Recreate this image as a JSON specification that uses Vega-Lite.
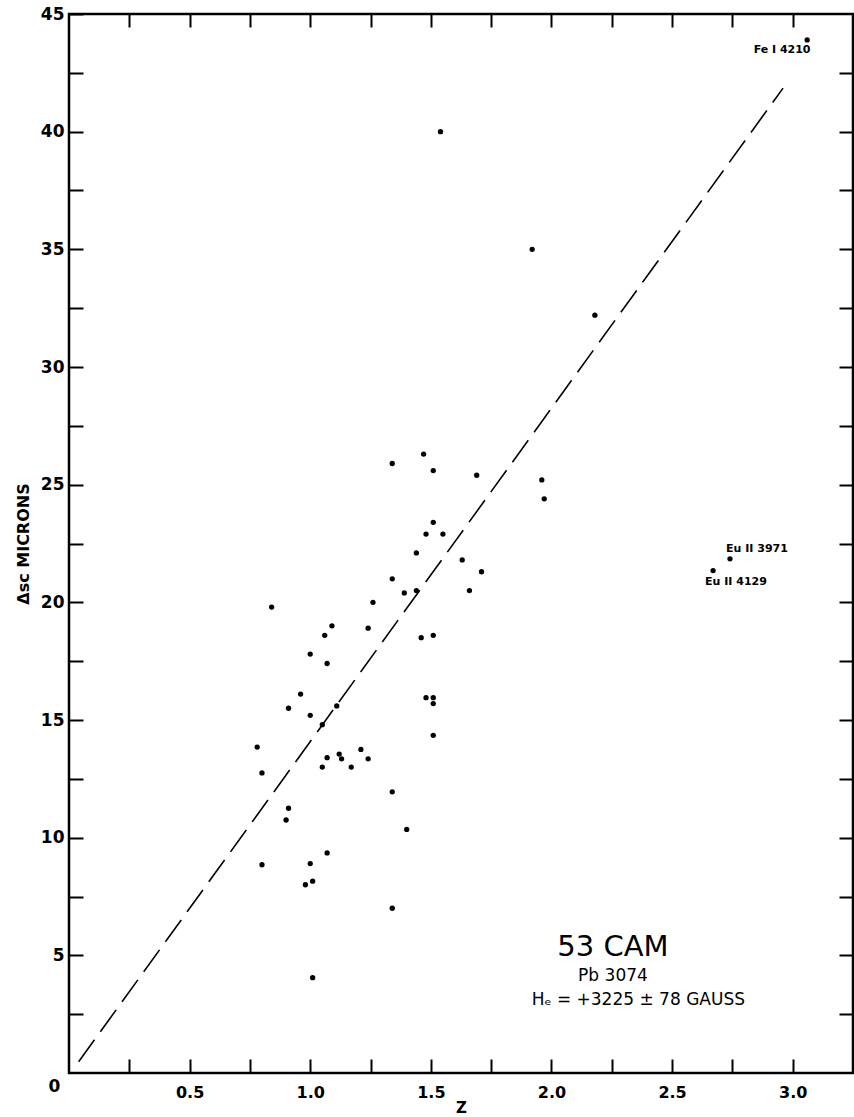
{
  "$schema": "https://vega.github.io/schema/vega-lite/v6.json",
  "width": 784,
  "height": 1059,
  "autosize": "none",
  "padding": {"left": 69, "top": 14, "right": 1, "bottom": 44},
  "background": "white",
  "config": {
    "view": {"stroke": "black", "strokeWidth": 2.5},
    "font": "DejaVu Sans"
  },
  "datasets": {
    "points": [
      {"z": 3.06, "ds": 43.9},
      {"z": 1.54, "ds": 40.0},
      {"z": 1.92, "ds": 35.0},
      {"z": 2.18, "ds": 32.2},
      {"z": 1.34, "ds": 25.9},
      {"z": 1.47, "ds": 26.3},
      {"z": 1.51, "ds": 25.6},
      {"z": 1.69, "ds": 25.4},
      {"z": 1.96, "ds": 25.2},
      {"z": 1.97, "ds": 24.4},
      {"z": 1.51, "ds": 23.4},
      {"z": 1.48, "ds": 22.9},
      {"z": 1.55, "ds": 22.9},
      {"z": 1.44, "ds": 22.1},
      {"z": 1.63, "ds": 21.8},
      {"z": 1.71, "ds": 21.3},
      {"z": 1.34, "ds": 21.0},
      {"z": 1.39, "ds": 20.4},
      {"z": 1.44, "ds": 20.5},
      {"z": 1.66, "ds": 20.5},
      {"z": 0.84, "ds": 19.8},
      {"z": 1.26, "ds": 20.0},
      {"z": 1.09, "ds": 19.0},
      {"z": 1.06, "ds": 18.6},
      {"z": 1.24, "ds": 18.9},
      {"z": 1.46, "ds": 18.5},
      {"z": 1.51, "ds": 18.6},
      {"z": 1.0, "ds": 17.8},
      {"z": 1.07, "ds": 17.4},
      {"z": 0.96, "ds": 16.1},
      {"z": 0.91, "ds": 15.5},
      {"z": 1.0, "ds": 15.2},
      {"z": 1.11, "ds": 15.6},
      {"z": 1.05, "ds": 14.8},
      {"z": 1.48, "ds": 15.95},
      {"z": 1.51, "ds": 15.95},
      {"z": 1.51, "ds": 15.7},
      {"z": 1.51, "ds": 14.35},
      {"z": 0.78, "ds": 13.85},
      {"z": 0.8, "ds": 12.75},
      {"z": 1.07, "ds": 13.4},
      {"z": 1.12, "ds": 13.55},
      {"z": 1.13, "ds": 13.35},
      {"z": 1.21, "ds": 13.75},
      {"z": 1.24, "ds": 13.35},
      {"z": 1.05, "ds": 13.0},
      {"z": 1.17, "ds": 13.0},
      {"z": 0.91, "ds": 11.25},
      {"z": 0.9, "ds": 10.75},
      {"z": 1.34, "ds": 11.95},
      {"z": 1.4, "ds": 10.35},
      {"z": 1.07, "ds": 9.35},
      {"z": 0.8, "ds": 8.85},
      {"z": 1.0, "ds": 8.9},
      {"z": 0.98, "ds": 8.0},
      {"z": 1.01, "ds": 8.15},
      {"z": 1.34, "ds": 7.0},
      {"z": 1.01, "ds": 4.05},
      {"z": 2.74, "ds": 21.85},
      {"z": 2.67, "ds": 21.35}
    ],
    "fit": [
      {"z": 0.04, "ds": 0.48},
      {"z": 2.96, "ds": 41.85}
    ],
    "smalllabels": [
      {"z": 2.956, "ds": 43.45, "label": "Fe I 4210"},
      {"z": 2.852, "ds": 22.27, "label": "Eu II 3971"},
      {"z": 2.765, "ds": 20.87, "label": "Eu II 4129"}
    ],
    "title": [
      {"z": 2.255, "ds": 5.35, "label": "53 CAM"}
    ],
    "subtitle": [
      {"z": 2.255, "ds": 4.12, "label": "Pb 3074"},
      {"z": 2.36, "ds": 3.1, "label": "Hₑ = +3225 ± 78 GAUSS"}
    ],
    "origin": [
      {"z": -0.06, "ds": -0.6, "label": "0"}
    ]
  },
  "layer": [
    {
      "data": {"name": "points"},
      "mark": {"type": "circle", "size": 28, "color": "black", "opacity": 1},
      "encoding": {
        "x": {
          "field": "z", "type": "quantitative",
          "scale": {"domain": [0, 3.25], "nice": false, "zero": false},
          "axis": {
            "orient": "bottom",
            "values": [0.25, 0.5, 0.75, 1, 1.25, 1.5, 1.75, 2, 2.25, 2.5, 2.75, 3],
            "labelExpr": "(datum.value * 2) % 1 == 0 ? format(datum.value, '.1f') : ''",
            "tickSize": -14, "tickWidth": 2, "tickColor": "black",
            "domain": false, "grid": false,
            "labelFont": "DejaVu Sans", "labelFontSize": 16, "labelFontWeight": "bold",
            "labelColor": "black", "labelPadding": 25,
            "title": "Z", "titleFont": "DejaVu Sans", "titleFontSize": 15,
            "titleFontWeight": "bold", "titleColor": "black", "titlePadding": 0
          }
        },
        "y": {
          "field": "ds", "type": "quantitative",
          "scale": {"domain": [0, 45], "nice": false, "zero": false},
          "axis": {
            "orient": "left",
            "values": [2.5, 5, 7.5, 10, 12.5, 15, 17.5, 20, 22.5, 25, 27.5, 30, 32.5, 35, 37.5, 40, 42.5, 45],
            "labelExpr": "datum.value % 5 == 0 ? format(datum.value, 'd') : ''",
            "tickSize": -14, "tickWidth": 2, "tickColor": "black",
            "domain": false, "grid": false,
            "labelFont": "DejaVu Sans", "labelFontSize": 17, "labelFontWeight": "bold",
            "labelColor": "black", "labelPadding": 19,
            "title": "Δsc  MICRONS", "titleFont": "DejaVu Sans", "titleFontSize": 16,
            "titleFontWeight": "bold", "titleColor": "black", "titlePadding": 9
          }
        }
      }
    },
    {
      "data": {"name": "fit"},
      "mark": {"type": "line", "color": "black", "strokeWidth": 1.6, "strokeDash": [27, 10]},
      "encoding": {
        "x": {
          "field": "z", "type": "quantitative",
          "scale": {"domain": [0, 3.25], "nice": false, "zero": false},
          "axis": {
            "orient": "top",
            "values": [0.25, 0.5, 0.75, 1, 1.25, 1.5, 1.75, 2, 2.25, 2.5, 2.75, 3],
            "tickSize": -13, "tickWidth": 2, "tickColor": "black",
            "labels": false, "domain": false, "grid": false, "title": null
          }
        },
        "y": {
          "field": "ds", "type": "quantitative",
          "scale": {"domain": [0, 45], "nice": false, "zero": false},
          "axis": {
            "orient": "right",
            "values": [2.5, 5, 7.5, 10, 12.5, 15, 17.5, 20, 22.5, 25, 27.5, 30, 32.5, 35, 37.5, 40, 42.5],
            "tickSize": -14, "tickWidth": 2, "tickColor": "black",
            "labels": false, "domain": false, "grid": false, "title": null
          }
        }
      }
    },
    {
      "data": {"name": "smalllabels"},
      "mark": {"type": "text", "font": "DejaVu Sans", "fontSize": 11, "fontWeight": "bold", "color": "black", "align": "center", "baseline": "middle"},
      "encoding": {
        "x": {"field": "z", "type": "quantitative", "axis": null},
        "y": {"field": "ds", "type": "quantitative", "axis": null},
        "text": {"field": "label"}
      }
    },
    {
      "data": {"name": "title"},
      "mark": {"type": "text", "font": "DejaVu Sans", "fontSize": 29, "color": "black", "align": "center", "baseline": "middle"},
      "encoding": {
        "x": {"field": "z", "type": "quantitative", "axis": null},
        "y": {"field": "ds", "type": "quantitative", "axis": null},
        "text": {"field": "label"}
      }
    },
    {
      "data": {"name": "subtitle"},
      "mark": {"type": "text", "font": "DejaVu Sans", "fontSize": 17, "color": "black", "align": "center", "baseline": "middle"},
      "encoding": {
        "x": {"field": "z", "type": "quantitative", "axis": null},
        "y": {"field": "ds", "type": "quantitative", "axis": null},
        "text": {"field": "label"}
      }
    },
    {
      "data": {"name": "origin"},
      "mark": {"type": "text", "font": "DejaVu Sans", "fontSize": 17, "fontWeight": "bold", "color": "black", "align": "center", "baseline": "middle", "clip": false},
      "encoding": {
        "x": {"field": "z", "type": "quantitative", "axis": null},
        "y": {"field": "ds", "type": "quantitative", "axis": null},
        "text": {"field": "label"}
      }
    }
  ],
  "resolve": {"axis": {"x": "independent", "y": "independent"}}
}
